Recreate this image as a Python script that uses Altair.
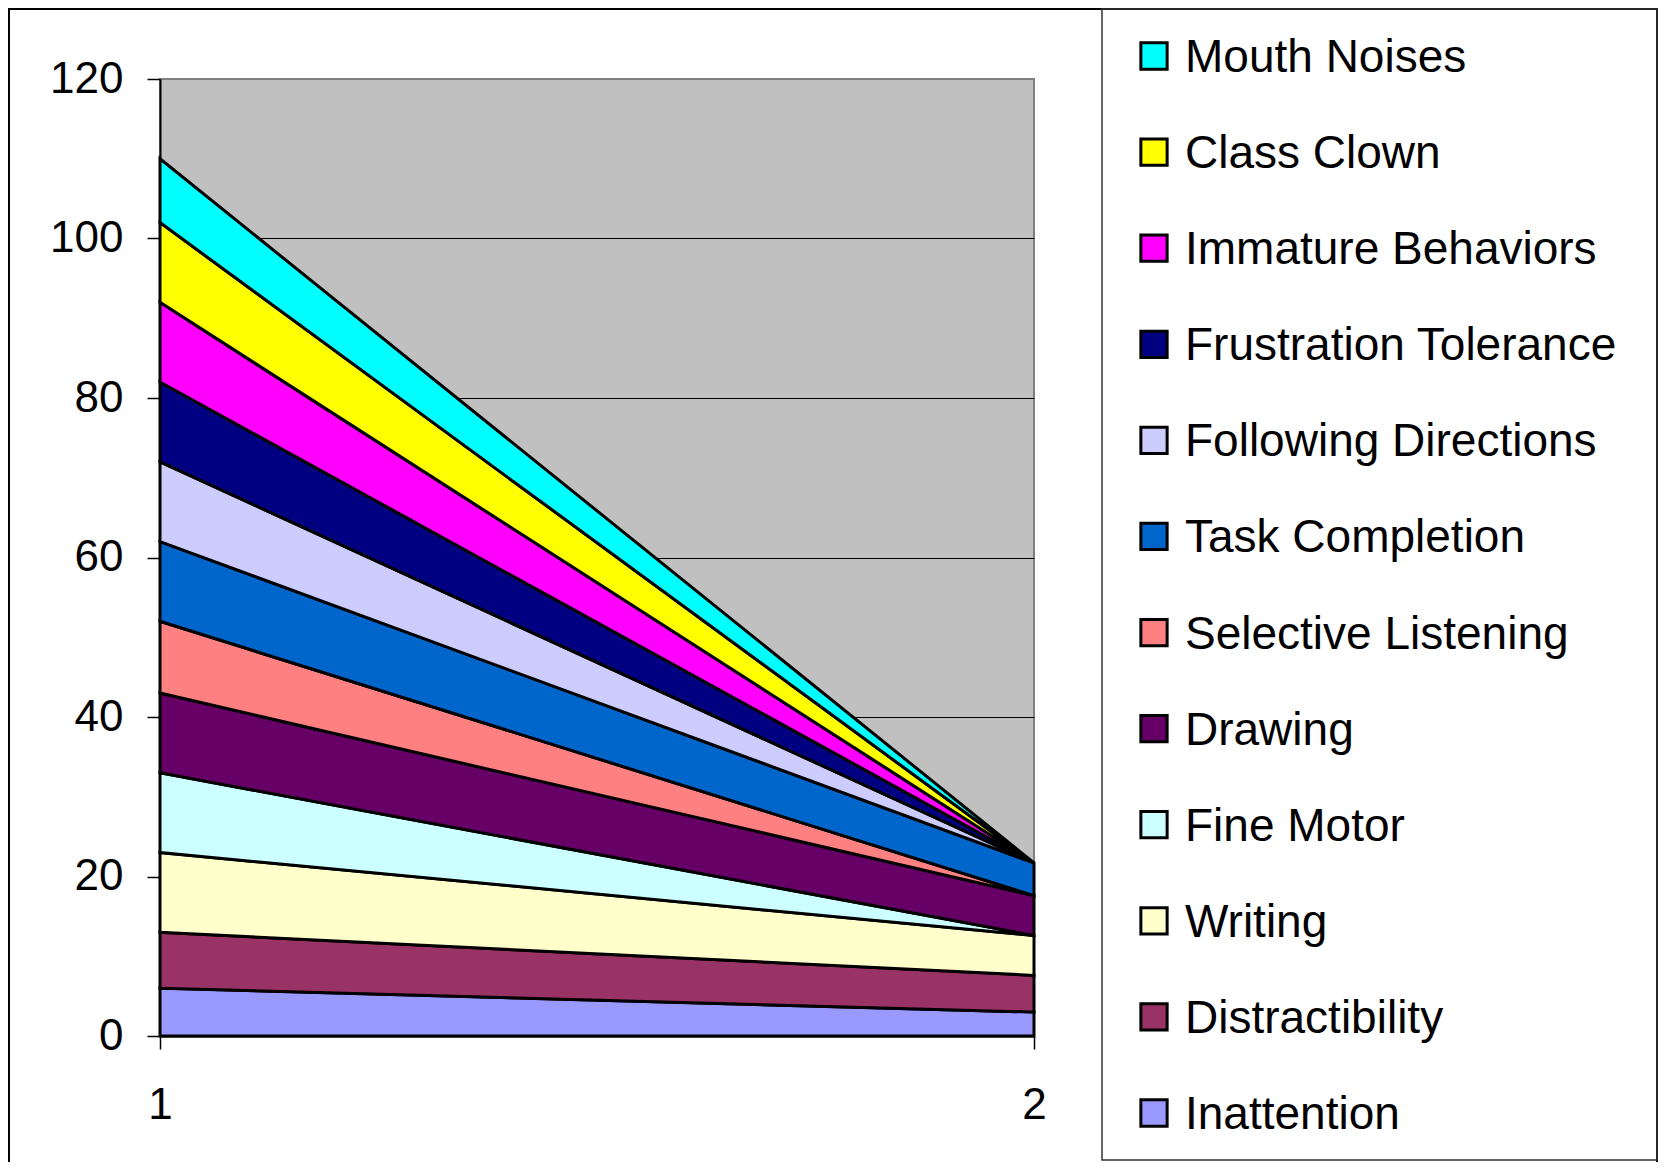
import altair as alt
import pandas as pd

# Series, bottom of stack first
names = ["Inattention", "Distractibility", "Writing", "Fine Motor", "Drawing",
         "Selective Listening", "Task Completion", "Following Directions",
         "Frustration Tolerance", "Immature Behaviors", "Class Clown", "Mouth Noises"]
values_1 = [6, 7, 10, 10, 10, 9, 10, 10, 10, 10, 10, 8]
values_2 = [3, 4.6, 5, 0, 5, 0, 4.1, 0, 0, 0, 0, 0]
periods = [1, 2]
colors = ["#9999FF", "#993366", "#FFFFCC", "#CCFFFF", "#660066", "#FF8080",
          "#0066CC", "#CCCCFF", "#000080", "#FF00FF", "#FFFF00", "#00FFFF"]
y_ticks = [0, 20, 40, 60, 80, 100, 120]

rows = []
for i, n in enumerate(names):
    rows.append({"name": n, "idx": i, "period": periods[0], "value": values_1[i]})
    rows.append({"name": n, "idx": i, "period": periods[1], "value": values_2[i]})
df = pd.DataFrame(rows)
legend_order = list(reversed(names))
legend_df = pd.DataFrame({"name": legend_order})

FONT = "Liberation Sans"
W, H = 874, 957
PAD = {"left": 152, "top": 71, "right": 625, "bottom": 126}
RIGHT = W + PAD["right"]          # canvas right edge in plot coordinates
BOTTOM = H + PAD["bottom"]        # canvas bottom edge in plot coordinates

color_scale = alt.Scale(domain=names, range=colors)

area = alt.Chart(df).mark_area(stroke="black", strokeWidth=3, opacity=1).encode(
    x=alt.X("period:Q",
            scale=alt.Scale(domain=[1, 2], nice=False, zero=False),
            axis=alt.Axis(values=periods, format="d", title=None, labelFontSize=44,
                          labelFont=FONT, labelColor="black", tickSize=13,
                          tickColor="black", tickWidth=1.5, labelPadding=34,
                          labelFlush=False, grid=False, domainColor="black",
                          domainWidth=2)),
    y=alt.Y("value:Q", stack="zero",
            scale=alt.Scale(domain=[0, 120], nice=False),
            axis=alt.Axis(values=y_ticks, title=None, labelFontSize=44, labelFont=FONT,
                          labelColor="black", tickSize=13, tickColor="black",
                          tickWidth=1.5, labelPadding=24, grid=True,
                          gridColor=alt.condition("datum.value === 120",
                                                  alt.value("#808080"),
                                                  alt.value("black")),
                          gridWidth=1, domainColor="black", domainWidth=2)),
    color=alt.Color("name:N", scale=color_scale, legend=None),
    order=alt.Order("idx:Q", sort="ascending"),
)

legend_y = alt.Y("name:N", sort=legend_order,
                 scale=alt.Scale(type="point", range=[-23, 1034], padding=0),
                 axis=None)

swatches = alt.Chart(legend_df).mark_square(size=690, stroke="black", strokeWidth=3,
                                            opacity=1, filled=True).encode(
    x=alt.value(994),
    y=legend_y,
    color=alt.Color("name:N", scale=color_scale, legend=None),
)

labels = alt.Chart(legend_df).mark_text(align="left", baseline="alphabetic", dy=16,
                                        fontSize=46, font=FONT, color="black").encode(
    x=alt.value(1025),
    y=legend_y,
    text="name:N",
)

frame_df = pd.DataFrame({"k": [0]})
outer = alt.Chart(frame_df).mark_rect(fillOpacity=0, stroke="black", strokeWidth=2).encode(
    x=alt.value(-151), x2=alt.value(RIGHT - 2), y=alt.value(-70), y2=alt.value(BOTTOM + 20)
)
legend_box = alt.Chart(frame_df).mark_rect(fillOpacity=0, stroke="#333333",
                                           strokeWidth=1.5).encode(
    x=alt.value(942), x2=alt.value(RIGHT - 2), y=alt.value(-70), y2=alt.value(BOTTOM - 2)
)

chart = alt.layer(area, outer, legend_box, swatches, labels).resolve_scale(
    y="independent"
).properties(
    width=W, height=H,
    autosize=alt.AutoSizeParams(type="none"),
    padding=PAD,
    background="white",
).configure_view(
    fill="#C0C0C0", stroke="#808080", strokeWidth=2
)

chart.save("out.html", embed_options={"renderer": "svg", "actions": False})
